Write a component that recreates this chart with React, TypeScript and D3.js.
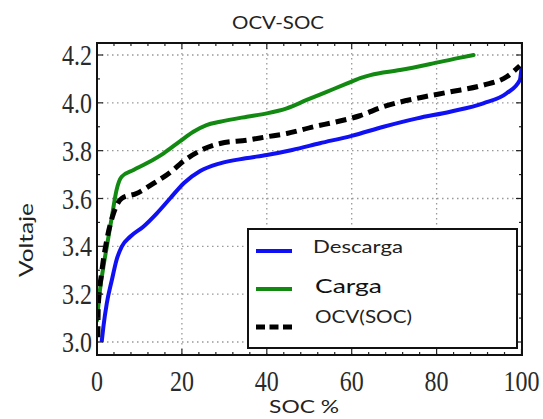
import React from "react";
import * as d3 from "d3";

// Discharge curve (SOC %, voltage)
const descargaSoc = [1.1, 1.5, 2.3, 3.5, 4.6, 5.8, 7.8, 10.9, 14.1, 17.2, 20.5, 24.3, 29, 35, 40, 46, 52.5, 60, 67.5, 75.4, 83.2, 91, 96.5, 99.6, 100];
const descargaV = [3.0, 3.063, 3.161, 3.259, 3.343, 3.398, 3.44, 3.482, 3.538, 3.6, 3.665, 3.715, 3.747, 3.768, 3.782, 3.803, 3.831, 3.862, 3.9, 3.935, 3.963, 3.998, 4.04, 4.095, 4.145];

// Charge curve
const cargaSoc = [0, 0.7, 1.5, 2.3, 3.5, 4.6, 5.8, 8.6, 11.7, 15.7, 19.6, 22.7, 25.8, 29, 35.3, 40, 44.7, 49.4, 54.1, 58.8, 62, 64.4, 71.4, 79.2, 84.7, 88.7];
const cargaV = [3.09, 3.217, 3.314, 3.398, 3.523, 3.635, 3.691, 3.719, 3.747, 3.789, 3.84, 3.879, 3.907, 3.921, 3.942, 3.956, 3.977, 4.012, 4.046, 4.08, 4.103, 4.116, 4.137, 4.165, 4.186, 4.2];

// Open-circuit voltage curve
const ocvSoc = [0.2, 0.3, 1.1, 2.3, 3.9, 5.8, 9.3, 13.3, 18, 19.6, 24.3, 29, 35.3, 40, 44.7, 51, 56.5, 61.9, 67.5, 75.4, 83.2, 91, 96.5, 99.6];
const ocvV = [3.02, 3.15, 3.29, 3.426, 3.538, 3.6, 3.621, 3.663, 3.72, 3.745, 3.8, 3.83, 3.844, 3.858, 3.872, 3.9, 3.921, 3.946, 3.984, 4.019, 4.046, 4.074, 4.109, 4.155];

const xTicks = [0, 20, 40, 60, 80, 100];
const yTicks = [3.0, 3.2, 3.4, 3.6, 3.8, 4.0, 4.2];
const legendLabels = ["Descarga", "Carga", "OCV(SOC)"];

const W = 543;
const H = 419;
const left = 97;
const right = 522;
const top = 43;
const bottom = 355;

const BLUE = "#1010f5";
const GREEN = "#128a12";
const SANS = "Lato, 'Noto Sans', sans-serif";
const SERIF = "'Liberation Serif', 'DejaVu Serif', serif";

export default function App() {
  const x = d3.scaleLinear().domain([0, 100]).range([97, 521.5]);
  const y = d3.scaleLinear().domain([3.0, 4.2]).range([342, 55]);

  const line = d3
    .line<[number, number]>()
    .x((d) => x(d[0]))
    .y((d) => y(d[1]))
    .curve(d3.curveMonotoneX);

  const zip = (a: number[], b: number[]) => a.map((v, i) => [v, b[i]] as [number, number]);

  const xMinor = d3.range(0, 100.01, 4);
  const yMinor = d3.range(3.0, 4.251, 0.1);

  return (
    <svg
      width={W}
      height={H}
      style={{ position: "absolute", left: 0, top: 0, background: "#fff" }}
    >
      <defs>
        <clipPath id="plot">
          <rect x={left} y={top} width={right - left} height={bottom - top} />
        </clipPath>
      </defs>

      {/* title */}
      <text x={278} y={29} textAnchor="middle" fontFamily={SANS} fontSize={18} fill="#222" textLength={92} lengthAdjust="spacingAndGlyphs">
        OCV-SOC
      </text>

      {/* grid */}
      <g stroke="#999" strokeWidth={1.3} strokeDasharray="1.5 3.5">
        {xTicks.slice(1, -1).map((t) => (
          <line key={"gx" + t} x1={x(t)} x2={x(t)} y1={top} y2={bottom} />
        ))}
        {yTicks.map((t) => (
          <line key={"gy" + t} x1={left} x2={right} y1={y(t)} y2={y(t)} />
        ))}
      </g>

      {/* curves */}
      <g clipPath="url(#plot)" fill="none" strokeLinejoin="round">
        <path d={line(zip(descargaSoc, descargaV)) || ""} stroke={BLUE} strokeWidth={4} />
        <path d={line(zip(cargaSoc, cargaV)) || ""} stroke={GREEN} strokeWidth={4} strokeLinecap="round" />
        <path d={line(zip(ocvSoc, ocvV)) || ""} stroke="#000" strokeWidth={5} strokeDasharray="11 6" />
      </g>

      {/* ticks on all four sides, pointing inward */}
      <g stroke="#222" strokeWidth={1.2}>
        {xMinor.map((t) => {
          const major = t % 20 === 0;
          const len = major ? 6 : 3;
          return (
            <g key={"tx" + t}>
              <line x1={x(t)} x2={x(t)} y1={bottom} y2={bottom - len} />
              <line x1={x(t)} x2={x(t)} y1={top} y2={top + len} />
            </g>
          );
        })}
        {yMinor.map((t, i) => {
          const major = i % 2 === 0;
          const len = major ? 6 : 3;
          return (
            <g key={"ty" + i}>
              <line x1={left} x2={left + len} y1={y(t)} y2={y(t)} />
              <line x1={right} x2={right - len} y1={y(t)} y2={y(t)} />
            </g>
          );
        })}
      </g>

      {/* frame */}
      <rect x={left} y={top} width={right - left} height={bottom - top} fill="none" stroke="#111" strokeWidth={2} />

      {/* tick labels */}
      <g fontFamily={SERIF} fontSize={24} fill="#2a2a2a">
        {xTicks.map((t) => (
          <text key={"lx" + t} transform={`translate(${x(t)},391) scale(1,1.2)`} textAnchor="middle">
            {t}
          </text>
        ))}
        {yTicks.map((t) => (
          <text key={"ly" + t} transform={`translate(92,${y(t) + 10}) scale(1,1.2)`} textAnchor="end">
            {t.toFixed(1)}
          </text>
        ))}
      </g>

      {/* axis titles */}
      <text x={304} y={413} textAnchor="middle" fontFamily={SANS} fontSize={18} fill="#222" textLength={70} lengthAdjust="spacingAndGlyphs">
        SOC %
      </text>
      <text transform="translate(33,240) rotate(-90)" textAnchor="middle" fontFamily={SANS} fontSize={20} fill="#222" textLength={74} lengthAdjust="spacingAndGlyphs">
        Voltaje
      </text>

      {/* legend */}
      <g>
        <rect x={248} y={229} width={269} height={119} fill="#fff" stroke="#111" strokeWidth={2} />
        <line x1={256} x2={292} y1={251} y2={251} stroke={BLUE} strokeWidth={4} />
        <line x1={256} x2={292} y1={289} y2={289} stroke={GREEN} strokeWidth={4} />
        <line x1={256} x2={292} y1={327} y2={327} stroke="#000" strokeWidth={5} strokeDasharray="9 4.5" />
        <text x={313} y={253} fontFamily={SANS} fontSize={18} fill="#222" textLength={90} lengthAdjust="spacingAndGlyphs">
          {legendLabels[0]}
        </text>
        <text x={315} y={293} fontFamily={SANS} fontSize={20} fill="#111" textLength={67} lengthAdjust="spacingAndGlyphs">
          {legendLabels[1]}
        </text>
        <text x={315} y={323} fontFamily={SANS} fontSize={17} fill="#222" textLength={97} lengthAdjust="spacingAndGlyphs">
          {legendLabels[2]}
        </text>
      </g>
    </svg>
  );
}
